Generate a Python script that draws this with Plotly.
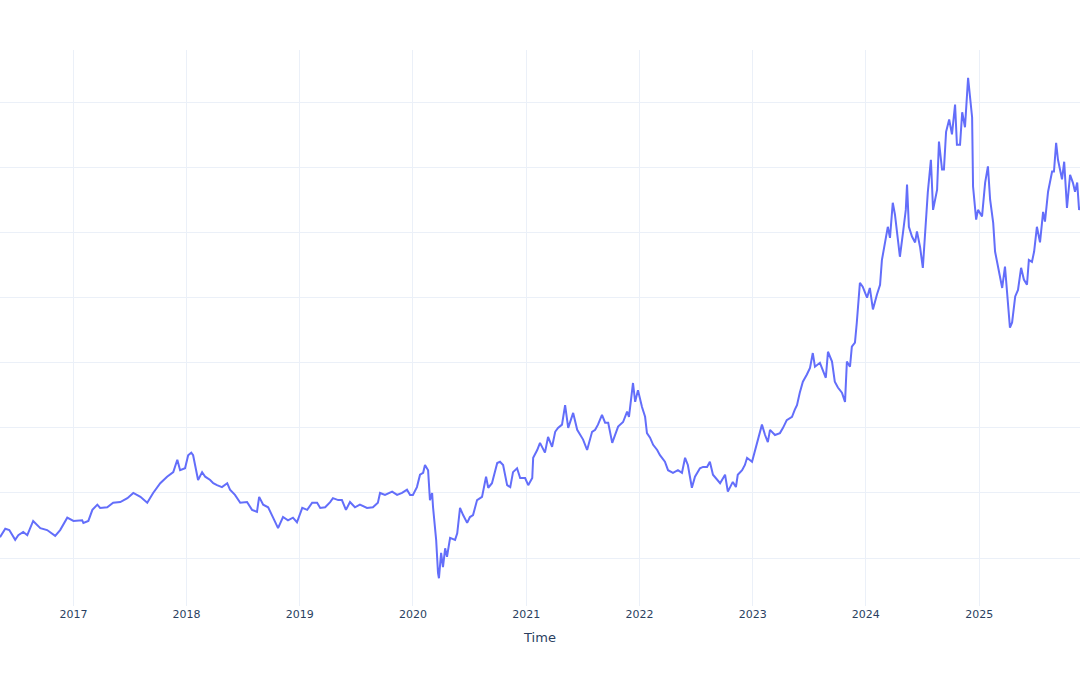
import pandas as pd
import plotly.graph_objects as go

# Time in decimal years
decimal_year = [
    2016.355, 2016.399, 2016.435, 2016.488, 2016.514, 2016.558, 2016.594, 2016.647, 2016.709, 2016.770,
    2016.841, 2016.885, 2016.947, 2017.000, 2017.079, 2017.088, 2017.132, 2017.168, 2017.212, 2017.238,
    2017.300, 2017.353, 2017.415, 2017.477, 2017.530, 2017.592, 2017.653, 2017.706, 2017.768, 2017.830,
    2017.883, 2017.918, 2017.944,
    2017.989, 2018.015, 2018.042, 2018.059, 2018.077, 2018.103, 2018.139, 2018.165, 2018.209, 2018.236,
    2018.271, 2018.315, 2018.359, 2018.386, 2018.430, 2018.474, 2018.536, 2018.580, 2018.624, 2018.642,
    2018.677, 2018.721, 2018.766, 2018.810, 2018.854, 2018.898, 2018.942, 2018.978, 2019.022, 2019.066,
    2019.110, 2019.154, 2019.181, 2019.225, 2019.269, 2019.295, 2019.340, 2019.375, 2019.410, 2019.446,
    2019.490, 2019.534,
    2019.596, 2019.649, 2019.693, 2019.711, 2019.755, 2019.817, 2019.861, 2019.905, 2019.949, 2019.976,
    2020.002, 2020.038, 2020.064, 2020.091, 2020.108, 2020.135, 2020.152, 2020.170, 2020.179, 2020.205,
    2020.223, 2020.232, 2020.249, 2020.267, 2020.285, 2020.302, 2020.329, 2020.373, 2020.391, 2020.417,
    2020.444, 2020.479, 2020.505, 2020.532, 2020.567, 2020.611, 2020.647, 2020.664, 2020.699, 2020.744,
    2020.770, 2020.797, 2020.832, 2020.858, 2020.885, 2020.920, 2020.947, 2020.991, 2021.017, 2021.053,
    2021.061, 2021.097, 2021.123,
    2021.167, 2021.194, 2021.229, 2021.256, 2021.282, 2021.317, 2021.344, 2021.370, 2021.415, 2021.450,
    2021.476, 2021.503, 2021.538, 2021.582, 2021.609, 2021.635, 2021.671, 2021.697, 2021.724, 2021.759,
    2021.785, 2021.812, 2021.856, 2021.891, 2021.909, 2021.944, 2021.962, 2021.989, 2022.024, 2022.051,
    2022.068, 2022.095, 2022.121, 2022.157, 2022.183, 2022.227, 2022.254, 2022.298, 2022.342, 2022.377,
    2022.404, 2022.430, 2022.465, 2022.492, 2022.536, 2022.562, 2022.598, 2022.624, 2022.651, 2022.686,
    2022.713,
    2022.757, 2022.783, 2022.827, 2022.854, 2022.871, 2022.907, 2022.933, 2022.951, 2022.995, 2023.022,
    2023.048, 2023.083, 2023.110, 2023.136, 2023.154, 2023.198, 2023.242, 2023.269, 2023.304, 2023.348,
    2023.375, 2023.392, 2023.419, 2023.445, 2023.481, 2023.507, 2023.534, 2023.551, 2023.596, 2023.622,
    2023.649, 2023.666, 2023.702, 2023.728, 2023.755, 2023.790, 2023.817, 2023.834, 2023.861, 2023.878,
    2023.905, 2023.922, 2023.949, 2023.975, 2024.011, 2024.037, 2024.064, 2024.099, 2024.126, 2024.143,
    2024.170, 2024.196, 2024.214, 2024.240, 2024.258, 2024.276, 2024.302,
    2024.329, 2024.355, 2024.364, 2024.382, 2024.408, 2024.435, 2024.452, 2024.479, 2024.505, 2024.532,
    2024.549, 2024.576, 2024.594, 2024.629, 2024.646, 2024.673, 2024.691, 2024.708, 2024.735, 2024.761,
    2024.788, 2024.806, 2024.832, 2024.850, 2024.876, 2024.903, 2024.921, 2024.938, 2024.947, 2024.974,
    2024.991, 2025.026, 2025.053, 2025.079, 2025.097, 2025.124, 2025.141, 2025.159, 2025.185, 2025.203,
    2025.230, 2025.247, 2025.273, 2025.291, 2025.318, 2025.344, 2025.371, 2025.397, 2025.424, 2025.441,
    2025.468, 2025.485, 2025.512, 2025.539, 2025.565, 2025.583, 2025.610, 2025.645, 2025.663, 2025.680,
    2025.698, 2025.733, 2025.751, 2025.777, 2025.804, 2025.830, 2025.848, 2025.866, 2025.883, 2025.892,
]

price = [
    23.2, 24.5, 24.3, 22.8, 23.5, 24.0, 23.5, 25.7, 24.6, 24.3,
    23.4, 24.3, 26.2, 25.7, 25.8, 25.4, 25.7, 27.4, 28.2, 27.7,
    27.8, 28.5, 28.6, 29.2, 30.0, 29.4, 28.5, 30.0, 31.5, 32.5,
    33.2, 35.1, 33.5,
    33.8, 35.8, 36.2, 35.8, 34.3, 32.0, 33.2, 32.5, 32.0, 31.5,
    31.2, 30.9, 31.5, 30.5, 29.7, 28.5, 28.6, 27.4, 27.1, 29.4,
    28.2, 27.8, 26.2, 24.6, 26.3, 25.8, 26.2, 25.5, 27.7, 27.4,
    28.5, 28.5, 27.7, 27.8, 28.6, 29.2, 28.9, 28.9, 27.4, 28.6,
    27.8, 28.2,
    27.7, 27.8, 28.5, 30.0, 29.7, 30.2, 29.7, 30.0, 30.5, 29.7,
    29.7, 30.9, 32.8, 33.1, 34.3, 33.5, 28.9, 30.0, 27.8, 22.8,
    17.7, 16.9, 20.8, 18.6, 21.5, 20.2, 23.1, 22.8, 23.8, 27.7,
    26.6, 25.4, 26.3, 26.6, 28.9, 29.4, 32.5, 30.8, 31.5, 34.6,
    34.8, 34.3, 31.2, 30.9, 33.2, 33.8, 32.3, 32.3, 31.2, 32.3,
    35.4, 36.6, 37.7,
    36.2, 38.6, 37.1, 39.4, 40.0, 40.5, 43.5, 40.0, 42.3, 39.7,
    38.9, 38.2, 36.6, 39.4, 39.7, 40.5, 42.0, 40.8, 40.8, 37.7,
    38.9, 40.2, 40.9, 42.5, 41.7, 46.9, 44.0, 45.8, 43.2, 41.7,
    39.2, 38.5, 37.4, 36.6, 35.8, 34.8, 33.5, 33.1, 33.5, 33.1,
    35.4, 34.3, 30.8, 32.5, 33.8, 34.0, 34.0, 34.8, 32.8, 32.0,
    31.5,
    32.8, 30.2, 31.7, 30.9, 32.8, 33.5, 34.3, 35.4, 34.8, 36.6,
    37.8, 40.5, 38.9, 37.8, 39.7, 38.9, 39.2, 40.0, 41.2, 41.7,
    42.8, 43.5, 45.4, 47.1, 48.2, 49.2, 51.5, 49.4, 50.0, 48.9,
    47.7, 51.7, 50.2, 47.1, 46.2, 45.4, 44.0, 50.2, 49.4, 52.5,
    53.1, 56.2, 62.3, 61.7, 60.0, 61.5, 58.2, 60.5, 62.0, 65.8,
    68.6, 70.9, 69.2, 74.6, 72.8, 70.0, 66.3,
    70.0, 73.5, 77.4, 70.9, 69.4, 68.5, 70.2, 67.8, 64.6, 71.5,
    76.2, 81.2, 73.5, 76.6, 84.0, 79.7, 79.7, 85.5, 87.4, 85.1,
    89.7, 83.5, 83.5, 88.5, 86.2, 93.8, 90.9, 87.7, 77.1, 72.0,
    73.5, 72.5, 77.7, 80.2, 75.1, 71.5, 67.1, 65.4, 63.2, 61.5,
    64.8, 60.2, 55.4, 56.2, 60.2, 61.2, 64.6, 62.8, 62.0, 65.8,
    65.5, 67.1, 70.9, 68.5, 73.2, 71.7, 76.3, 79.4, 79.4, 83.8,
    81.2, 78.2, 80.9, 73.8, 78.9, 77.7, 76.3, 77.7, 73.5, 74.0,
]


def to_timestamp(t):
    year = int(t)
    start = pd.Timestamp(year=year, month=1, day=1)
    end = pd.Timestamp(year=year + 1, month=1, day=1)
    return (start + (end - start) * (t - year)).normalize()


dates = [to_timestamp(t) for t in decimal_year]

fig = go.Figure(
    go.Scatter(
        x=dates,
        y=price,
        mode="lines",
        line=dict(color="#636efa", width=2),
        name="Price",
    )
)

fig.update_layout(
    template="plotly_white",
    width=1080,
    height=675,
    margin=dict(l=0, r=0, t=50, b=69),
    showlegend=False,
    font=dict(family="DejaVu Sans, Verdana, sans-serif", size=11),
    xaxis=dict(title=dict(text="Time", font=dict(size=13), standoff=12)),
    yaxis=dict(showticklabels=False, dtick=10),
)

fig.write_html("out.html")
